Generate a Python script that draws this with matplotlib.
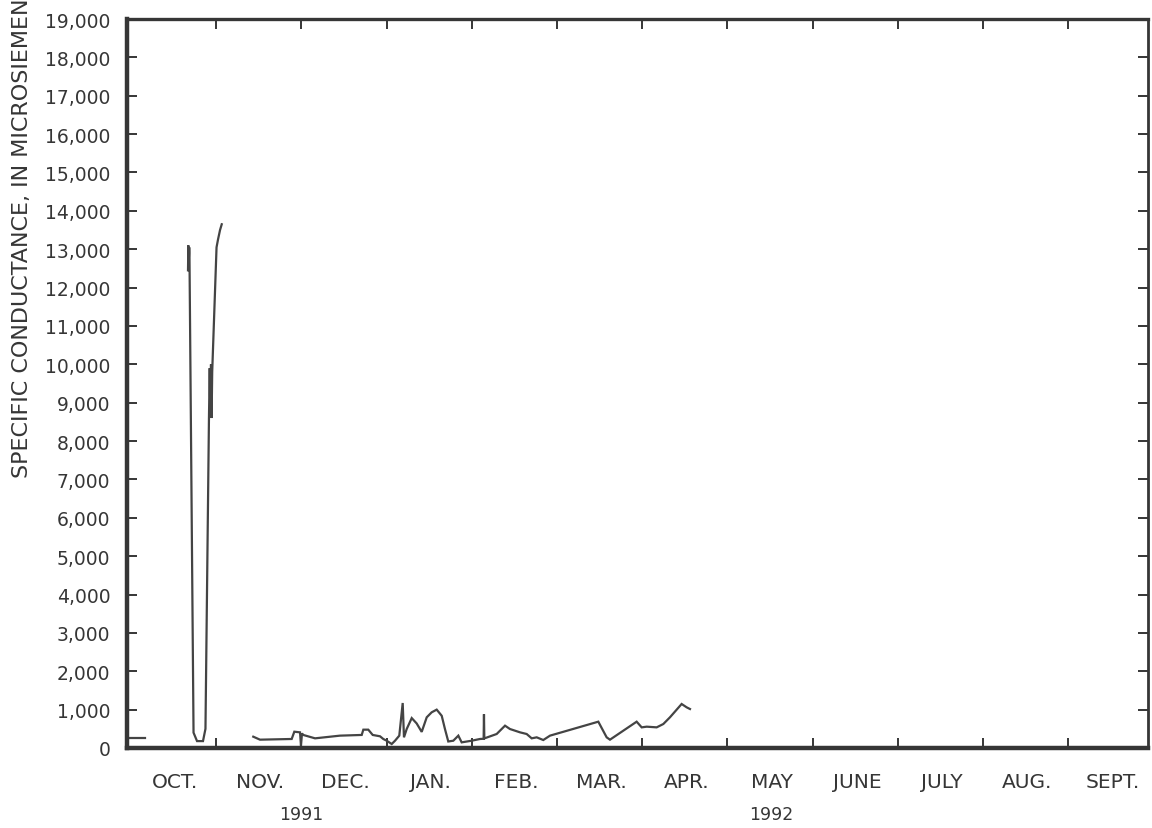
import matplotlib
matplotlib.use("Agg")
import matplotlib.pyplot as plt
import matplotlib.transforms as mtransforms
from matplotlib.ticker import FixedLocator, FixedFormatter, MultipleLocator, NullFormatter, StrMethodFormatter

# Time is in months since 1 October 1991 (each month drawn with equal width).
# Early-October record before the first gap
seg1_t = [-0.035, 0.164]
seg1_v = [260, 260]

# Late-October spikes
seg2_t = [0.669, 0.673, 0.677, 0.683, 0.686, 0.734, 0.775, 0.845, 0.874,
          0.915, 0.924, 0.931, 0.939, 0.946, 0.953, 1.004, 1.021, 1.045, 1.065]
seg2_v = [12450, 13100, 12600, 13050, 12900, 400, 180, 180, 500,
          8600, 9900, 8700, 10000, 8600, 9800, 13050, 13250, 13500, 13650]

# Mid-November through early April
seg3_t = [1.435, 1.514, 1.886, 1.917, 1.984, 1.995, 2.007, 2.022, 2.160, 2.453,
          2.708, 2.727, 2.785, 2.837, 2.923, 2.961, 3.001, 3.060, 3.099, 3.149,
          3.189, 3.204, 3.236, 3.295, 3.353, 3.412, 3.471, 3.529, 3.588, 3.647,
          3.685, 3.724, 3.783, 3.842, 3.881, 3.999, 4.096, 4.139, 4.143, 4.147,
          4.292, 4.390, 4.448, 4.566, 4.644, 4.703, 4.762, 4.839, 4.918, 5.485,
          5.583, 5.622, 5.935, 5.994, 6.053, 6.170, 6.248, 6.326, 6.463, 6.522,
          6.561]
seg3_v = [295, 217, 235, 425, 408, 60, 380, 340, 252, 322,
          340, 478, 478, 340, 305, 235, 190, 104, 190, 322,
          1173, 278, 495, 780, 640, 420, 800, 930, 1000, 840,
          495, 170, 190, 322, 147, 190, 235, 240, 880, 250,
          365, 582, 495, 408, 365, 252, 278, 208, 322, 686,
          278, 217, 686, 538, 556, 538, 625, 800, 1147, 1060,
          1016]

month_labels = ['OCT.', 'NOV.', 'DEC.', 'JAN.', 'FEB.', 'MAR.', 'APR.',
                'MAY', 'JUNE', 'JULY', 'AUG.', 'SEPT.']
year_labels = ['1991', '1992']

INK = '#363636'
LINE = '#444444'

plt.rcParams['font.family'] = ['DejaVu Sans']

fig = plt.figure(figsize=(11.52, 8.29), dpi=100)
ax = fig.add_axes([127 / 1152, 80 / 829, 1021 / 1152, 729 / 829])

for t, v in [(seg1_t, seg1_v), (seg2_t, seg2_v), (seg3_t, seg3_v)]:
    ax.plot(t, v, color=LINE, lw=1.6, solid_joinstyle='miter')

ax.set_xlim(-0.047, 11.937)
ax.set_ylim(0, 19000)

# month boundaries as ticks, month names centred in each month
ax.xaxis.set_major_locator(FixedLocator(list(range(1, 12))))
ax.xaxis.set_major_formatter(NullFormatter())
ax.xaxis.set_minor_locator(FixedLocator([k + 0.52 for k in range(12)]))
ax.xaxis.set_minor_formatter(FixedFormatter(month_labels))

ax.yaxis.set_major_locator(MultipleLocator(1000))
ax.yaxis.set_major_formatter(StrMethodFormatter('{x:,.0f}'))

ax.tick_params(which='major', direction='in', length=7, width=1.4,
               color=INK, top=True, right=True)
ax.tick_params(axis='x', which='minor', length=0, pad=17,
               labelsize=14.5, labelcolor=INK)
ax.tick_params(axis='y', which='major', pad=12, labelsize=13.5, labelcolor=INK)

for side, lw in [('left', 3.2), ('bottom', 3.2), ('top', 2.4), ('right', 2.0)]:
    ax.spines[side].set_linewidth(lw)
    ax.spines[side].set_color(INK)

trans = mtransforms.blended_transform_factory(ax.transData, ax.transAxes)
for x, lab in zip([2.0, 7.52], year_labels):
    ax.text(x, -0.0905, lab, transform=trans, ha='center', va='center',
            fontsize=12.5, color=INK)

fig.text(0.019, (829 - 478) / 829,
         'SPECIFIC CONDUCTANCE, IN MICROSIEMENS PER CENTIMETER AT 25 DEGREES CELSIUS',
         rotation=90, ha='center', va='bottom', fontsize=16, color=INK)

fig.savefig('out.png', dpi=100, facecolor='white')
